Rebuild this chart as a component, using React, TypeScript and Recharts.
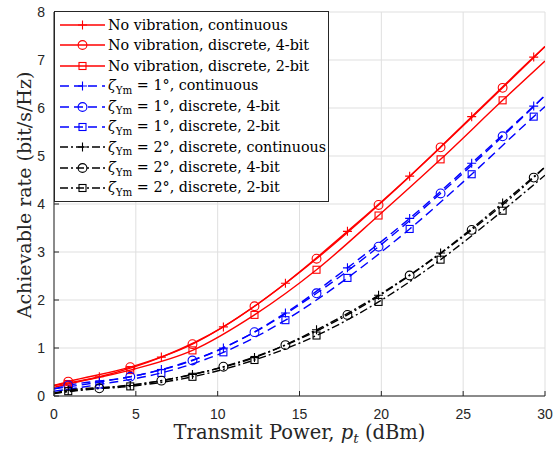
import React from "react";
import { LineChart, Line, XAxis, YAxis, CartesianGrid, Legend, Label } from "recharts";

const RED = "#ff0000";
const BLUE = "#0000ff";
const BLACK = "#000000";
const AXIS = "#262626";
const GRID = "#dfdfdf";
const SERIF = '"DejaVu Serif", serif';
const SANS = '"Liberation Sans", Arial, sans-serif';

// transmit power samples (dBm): both axis ends plus the marker positions
const powerDbm = [0, 0.87, 2.77, 4.66, 6.56, 8.46, 10.35, 12.25, 14.14, 16.04, 17.93, 19.83, 21.73, 23.62, 25.52, 27.41, 29.31, 30];

// achievable rate (bit/s/Hz); null where a curve has no marker
const _ = null;
const noVibCont = [0.22, _, 0.4, _, 0.81, _, 1.44, _, 2.35, _, 3.43, _, 4.58, _, 5.82, _, 7.06, 7.28];
const noVib4bit = [0.22, 0.3, _, 0.6, _, 1.08, _, 1.87, _, 2.86, _, 3.98, _, 5.18, _, 6.42, _, 7.28];
const noVib2bit = [0.18, 0.25, _, 0.54, _, 0.95, _, 1.69, _, 2.63, _, 3.76, _, 4.93, _, 6.16, _, 6.98];
const yaw1Cont = [0.15, _, 0.29, _, 0.55, _, 1.0, _, 1.73, _, 2.67, _, 3.7, _, 4.85, _, 6.04, 6.26];
const yaw14bit = [0.15, 0.22, _, 0.4, _, 0.74, _, 1.33, _, 2.14, _, 3.11, _, 4.22, _, 5.41, _, 6.26];
const yaw12bit = [0.1, _, 0.24, _, 0.48, _, 0.91, _, 1.58, _, 2.46, _, 3.48, _, 4.62, _, 5.82, 6.03];
const yaw2Cont = [0.06, 0.12, _, 0.22, _, 0.45, _, 0.8, _, 1.38, _, 2.1, _, 2.98, _, 4.02, _, 4.77];
const yaw24bit = [0.06, _, 0.16, _, 0.32, _, 0.61, _, 1.06, _, 1.69, _, 2.51, _, 3.46, _, 4.55, 4.77];
const yaw22bit = [0.05, 0.1, _, 0.2, _, 0.4, _, 0.75, _, 1.26, _, 1.96, _, 2.84, _, 3.86, _, 4.6];

const xTicks = [0, 5, 10, 15, 20, 25, 30];
const yTicks = [0, 1, 2, 3, 4, 5, 6, 7, 8];

type Shape = "plus" | "circle" | "square";

const SOLID = "";
const DASHED = "9 5";
const DASHDOT = "8 3 2 3";

const series = [
  { key: "noVibCont", values: noVibCont, color: RED, dash: SOLID, shape: "plus", yaw: "", label: "No vibration, continuous" },
  { key: "noVib4bit", values: noVib4bit, color: RED, dash: SOLID, shape: "circle", yaw: "", label: "No vibration, discrete, 4-bit" },
  { key: "noVib2bit", values: noVib2bit, color: RED, dash: SOLID, shape: "square", yaw: "", label: "No vibration, discrete, 2-bit" },
  { key: "yaw1Cont", values: yaw1Cont, color: BLUE, dash: DASHED, shape: "plus", yaw: "1°", label: "continuous" },
  { key: "yaw14bit", values: yaw14bit, color: BLUE, dash: DASHED, shape: "circle", yaw: "1°", label: "discrete, 4-bit" },
  { key: "yaw12bit", values: yaw12bit, color: BLUE, dash: DASHED, shape: "square", yaw: "1°", label: "discrete, 2-bit" },
  { key: "yaw2Cont", values: yaw2Cont, color: BLACK, dash: DASHDOT, shape: "plus", yaw: "2°", label: "discrete, continuous" },
  { key: "yaw24bit", values: yaw24bit, color: BLACK, dash: DASHDOT, shape: "circle", yaw: "2°", label: "discrete, 4-bit" },
  { key: "yaw22bit", values: yaw22bit, color: BLACK, dash: DASHDOT, shape: "square", yaw: "2°", label: "discrete, 2-bit" },
];

const rows = powerDbm.map((p, i) => {
  const row: Record<string, number | null> = { p };
  series.forEach((s) => {
    row[s.key] = s.values[i];
  });
  return row;
});

function Marker({ shape, cx, cy, color }: { shape: Shape; cx: number; cy: number; color: string }) {
  if (shape === "plus") {
    return (
      <path
        d={`M${cx - 4.5} ${cy}H${cx + 4.5}M${cx} ${cy - 4.5}V${cy + 4.5}`}
        stroke={color}
        strokeWidth={1.1}
        fill="none"
      />
    );
  }
  if (shape === "circle") {
    return <circle cx={cx} cy={cy} r={4.4} stroke={color} strokeWidth={1.1} fill="none" />;
  }
  return <rect x={cx - 3.5} y={cy - 3.5} width={7} height={7} stroke={color} strokeWidth={1.1} fill="none" />;
}

function LegendText({ yaw, label }: { yaw: string; label: string }) {
  if (!yaw) return <span>{label}</span>;
  return (
    <span>
      <i>ζ</i>
      <span style={{ fontSize: "0.72em", position: "relative", top: "0.35em" }}>Ym</span> = {yaw}, {label}
    </span>
  );
}

const renderLegend = () => (
  <div
    style={{
      boxSizing: "border-box",
      width: 275,
      height: 191,
      border: `1px solid ${AXIS}`,
      background: "#fff",
      padding: "2.8px 0 0 4px",
      fontFamily: SERIF,
      fontSize: 14.3,
      color: "#000",
    }}
  >
    {series.map((s) => (
      <div key={s.key} style={{ display: "flex", alignItems: "center", height: 20.4, lineHeight: "20.4px", whiteSpace: "nowrap" }}>
        <svg width={48} height={20} style={{ flex: "none", marginRight: 1 }}>
          <line x1={1} x2={46} y1={10} y2={10} stroke={s.color} strokeWidth={1.4} strokeDasharray={s.dash || undefined} />
          <Marker shape={s.shape as Shape} cx={23.5} cy={10} color={s.color} />
        </svg>
        <LegendText yaw={s.yaw} label={s.label} />
      </div>
    ))}
  </div>
);

const XLabel = ({ viewBox }: any) => (
  <text
    x={viewBox.x + viewBox.width / 2}
    y={viewBox.y + 43}
    textAnchor="middle"
    fontFamily={SERIF}
    fontSize={19.5}
    fill={AXIS}
  >
    Transmit Power, <tspan fontStyle="italic">p</tspan>
    <tspan fontStyle="italic" fontSize={13.5} dy={4}>t</tspan>
    <tspan dy={-4}> (dBm)</tspan>
  </text>
);

const YLabel = () => (
  <text
    transform="translate(31,195) rotate(-90)"
    x={0}
    y={0}
    textAnchor="middle"
    fontFamily={SERIF}
    fontSize={19}
    fill={AXIS}
  >
    Achievable rate (bit/s/Hz)
  </text>
);

const tickStyle = { fontFamily: SANS, fontSize: 14, fill: AXIS };

export default function App() {
  return (
    <div style={{ position: "absolute", left: 0, top: 0, width: 554, height: 449, background: "#fff" }}>
      <LineChart width={554} height={449} data={rows} margin={{ top: 12, right: 9, bottom: 0, left: 0 }}>
        <CartesianGrid stroke={GRID} strokeWidth={1} />
        <XAxis
          dataKey="p"
          type="number"
          domain={[0, 30]}
          ticks={xTicks}
          height={53}
          stroke={AXIS}
          tickSize={-5}
          tickMargin={18}
          tick={tickStyle}
          allowDataOverflow
        >
          <Label content={XLabel} />
        </XAxis>
        <XAxis
          xAxisId="top"
          orientation="top"
          type="number"
          domain={[0, 30]}
          ticks={xTicks}
          height={0}
          stroke={AXIS}
          tickSize={-5}
          tick={false}
        />
        <YAxis
          type="number"
          domain={[0, 8]}
          ticks={yTicks}
          width={54}
          stroke={AXIS}
          tickSize={-5}
          tickMargin={14}
          tick={tickStyle}
        >
          <Label content={YLabel} />
        </YAxis>
        <YAxis
          yAxisId="right"
          orientation="right"
          type="number"
          domain={[0, 8]}
          ticks={yTicks}
          width={0}
          stroke={AXIS}
          tickSize={-5}
          tick={false}
        />
        {series.map((s) => (
          <Line
            key={s.key}
            dataKey={s.key}
            type="monotone"
            connectNulls
            stroke={s.color}
            strokeWidth={1.4}
            strokeDasharray={s.dash || undefined}
            isAnimationActive={false}
            activeDot={false}
            dot={(props: any) => {
              const { cx, cy, value, payload, index } = props;
              if (value == null || cy == null || payload.p <= 0 || payload.p >= 30) {
                return <g key={`${s.key}-${index}`} />;
              }
              return (
                <g key={`${s.key}-${index}`}>
                  <Marker shape={s.shape as Shape} cx={cx} cy={cy} color={s.color} />
                </g>
              );
            }}
          />
        ))}
        <Legend
          layout="vertical"
          align="center"
          verticalAlign="middle"
          content={renderLegend}
          wrapperStyle={{ left: 54, top: 11, width: 275, height: 191 }}
        />
      </LineChart>
    </div>
  );
}
